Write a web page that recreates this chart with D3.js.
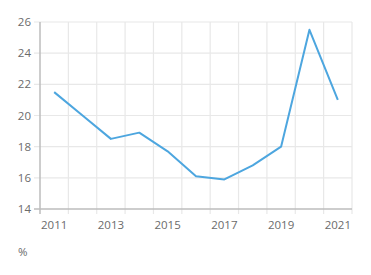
<!DOCTYPE html>
<html>
<head>
<script src="https://cdnjs.cloudflare.com/ajax/libs/d3/7.8.5/d3.min.js"></script>
<style>
  body { margin: 0; background: #fff; }
  text { font-family: "Open Sans", Arial, sans-serif; }
</style>
</head>
<body>
<div id="chart"></div>
<script>
const years = ["2011","2012","2013","2014","2015","2016","2017","2018","2019","2020","2021"];
const values = [21.5, 20.0, 18.5, 18.9, 17.7, 16.1, 15.9, 16.8, 18.0, 25.5, 21.0];
const yTicks = [14, 16, 18, 20, 22, 24, 26];
const xLabels = ["2011","2013","2015","2017","2019","2021"];

const width = 371, height = 275;
const margin = {top: 22, right: 19, bottom: 66, left: 40};

const svg = d3.select("#chart").append("svg")
  .attr("width", width)
  .attr("height", height);

const x = d3.scaleBand()
  .domain(years)
  .range([margin.left, width - margin.right]);

const y = d3.scaleLinear()
  .domain([14, 26])
  .range([height - margin.bottom, margin.top]);

// vertical grid at band edges
const edges = years.map(d => x(d)).concat([x.range()[1]]);
svg.append("g").selectAll("line")
  .data(edges.slice(1))
  .join("line")
  .attr("x1", d => d).attr("x2", d => d)
  .attr("y1", margin.top).attr("y2", height - margin.bottom + 5)
  .attr("stroke", "#e8e8e8")
  .attr("stroke-width", 1.2);

// horizontal grid
svg.append("g").selectAll("line")
  .data(yTicks.slice(1))
  .join("line")
  .attr("x1", margin.left - 6).attr("x2", width - margin.right)
  .attr("y1", d => y(d)).attr("y2", d => y(d))
  .attr("stroke", "#e8e8e8")
  .attr("stroke-width", 1.2);

// axes lines
svg.append("line")
  .attr("x1", margin.left).attr("x2", margin.left)
  .attr("y1", margin.top).attr("y2", height - margin.bottom + 5)
  .attr("stroke", "#bdbdbd").attr("stroke-width", 1.5);
svg.append("line")
  .attr("x1", margin.left - 6).attr("x2", width - margin.right)
  .attr("y1", y(14)).attr("y2", y(14))
  .attr("stroke", "#bdbdbd").attr("stroke-width", 1.5);

// y labels
svg.append("g").selectAll("text")
  .data(yTicks)
  .join("text")
  .attr("x", margin.left - 9)
  .attr("y", d => y(d))
  .attr("dy", "0.35em")
  .attr("text-anchor", "end")
  .attr("font-size", 11.5)
  .attr("fill", "#6b6b6b")
  .text(d => d);

// x labels
svg.append("g").selectAll("text")
  .data(xLabels)
  .join("text")
  .attr("x", d => x(d) + x.bandwidth() / 2)
  .attr("y", height - margin.bottom + 20)
  .attr("text-anchor", "middle")
  .attr("font-size", 11.5)
  .attr("fill", "#6b6b6b")
  .text(d => d);

// line
const line = d3.line()
  .x((d, i) => x(years[i]) + x.bandwidth() / 2)
  .y(d => y(d));

svg.append("path")
  .datum(values)
  .attr("fill", "none")
  .attr("stroke", "#4da6df")
  .attr("stroke-width", 2)
  .attr("stroke-linejoin", "round")
  .attr("d", line);

svg.append("text")
  .attr("x", 18)
  .attr("y", 256)
  .attr("font-size", 11.5)
  .attr("fill", "#6b6b6b")
  .text("%");
</script>
</body>
</html>
